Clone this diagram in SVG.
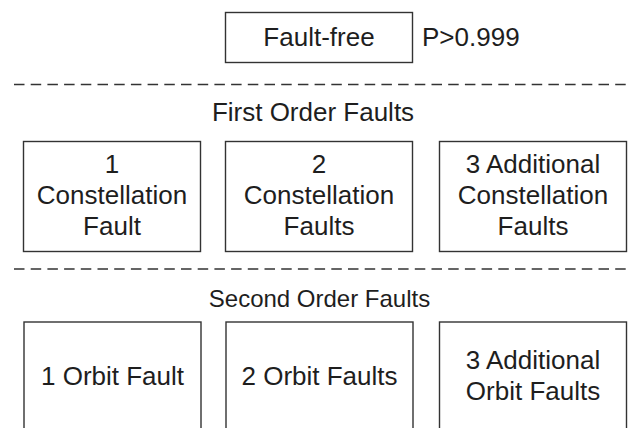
<svg xmlns="http://www.w3.org/2000/svg" width="629" height="428" viewBox="0 0 629 428">
  <style>
    .box { fill: #ffffff; stroke: #333333; stroke-width: 1.4; }
    .lbl { font-family: "Liberation Sans", Arial, sans-serif; font-size: 26px; fill: #1e1e1e; text-anchor: middle; }
    .hdr { font-family: "Liberation Sans", Arial, sans-serif; font-size: 26px; fill: #1e1e1e; text-anchor: middle; }
    .sep { stroke: #333333; stroke-width: 1.6; stroke-dasharray: 10.5 6.2; fill: none; }
  </style>
  <rect width="629" height="428" fill="#ffffff"/>

  <!-- Fault-free state -->
  <g id="fault-free">
    <rect class="box" x="225.5" y="12.5" width="187" height="50"/>
    <text class="lbl" x="319" y="46">Fault-free</text>
  </g>
  <text class="lbl" x="422" y="46" style="text-anchor:start">P&gt;0.999</text>

  <!-- Section separators -->
  <g id="separators">
    <line class="sep" x1="14" y1="84.5" x2="629" y2="84.5"/>
    <line class="sep" x1="14" y1="269" x2="629" y2="269"/>
  </g>

  <!-- First order faults -->
  <text class="hdr" x="313" y="120.5">First Order Faults</text>

  <g id="constellation-1">
    <rect class="box" x="23.5" y="141.5" width="177" height="110"/>
    <text class="lbl" x="112" y="172.5">1</text>
    <text class="lbl" x="112" y="203.5">Constellation</text>
    <text class="lbl" x="112" y="235">Fault</text>
  </g>
  <g id="constellation-2">
    <rect class="box" x="225.5" y="141.5" width="187" height="110"/>
    <text class="lbl" x="319" y="172.5">2</text>
    <text class="lbl" x="319" y="203.5">Constellation</text>
    <text class="lbl" x="319" y="235">Faults</text>
  </g>
  <g id="constellation-3">
    <rect class="box" x="439.5" y="141.5" width="187" height="110"/>
    <text class="lbl" x="533" y="172.5">3 Additional</text>
    <text class="lbl" x="533" y="203.5">Constellation</text>
    <text class="lbl" x="533" y="235">Faults</text>
  </g>

  <!-- Second order faults -->
  <text class="hdr" x="319.5" y="307" style="font-size:24px">Second Order Faults</text>

  <g id="orbit-1">
    <rect class="box" x="24" y="322" width="177" height="120"/>
    <text class="lbl" x="112.5" y="385">1 Orbit Fault</text>
  </g>
  <g id="orbit-2">
    <rect class="box" x="226" y="322" width="187" height="120"/>
    <text class="lbl" x="319.5" y="385">2 Orbit Faults</text>
  </g>
  <g id="orbit-3">
    <rect class="box" x="439.5" y="322" width="187" height="120"/>
    <text class="lbl" x="533" y="369">3 Additional</text>
    <text class="lbl" x="533" y="400">Orbit Faults</text>
  </g>
</svg>
